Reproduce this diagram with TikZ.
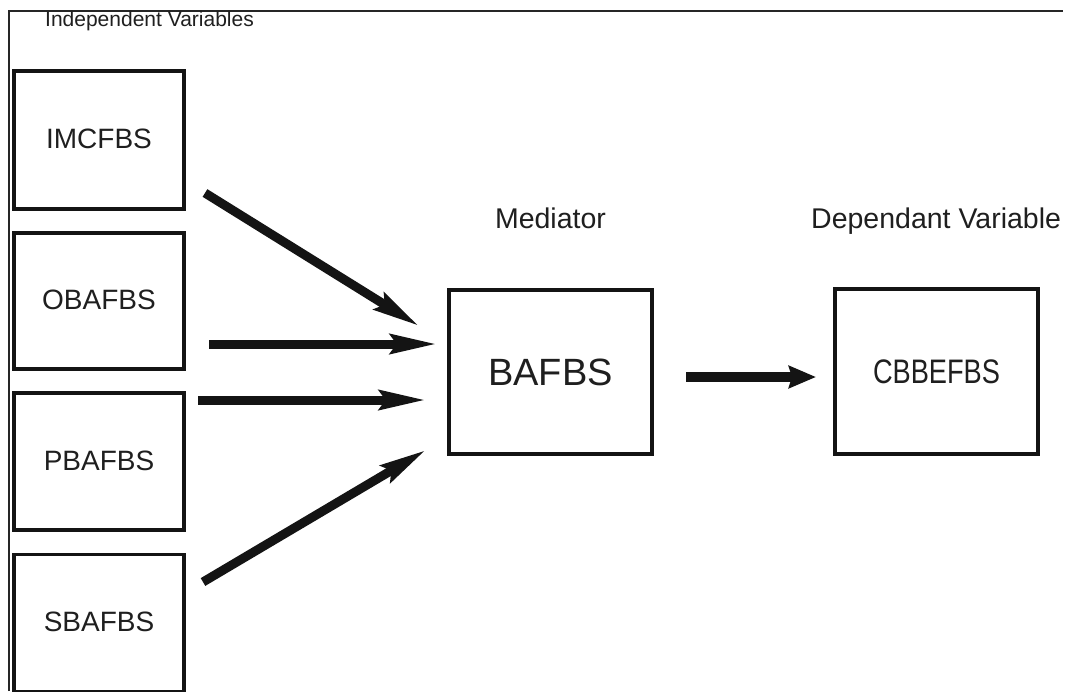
\documentclass[tikz,border=0pt]{standalone}
\usepackage{fontspec}
\setmainfont{Liberation Sans}
\usepackage{graphicx}
\usetikzlibrary{arrows.meta}
\begin{document}
\begin{tikzpicture}[x=1pt,y=-1pt,
  box/.style={draw=black!92, line width=3.8pt, inner sep=0pt, minimum width=170pt},
  lbl/.style={font=\fontsize{28}{30}\selectfont, text=black!88},
  head/.style={font=\fontsize{28.5}{30}\selectfont, text=black!88, inner sep=0pt},
  arr/.style={draw=black!92, line width=9pt, -{Stealth[length=46pt,width=19pt,inset=6pt]}},
  arrb/.style={draw=black!92, line width=10pt, -{Stealth[length=27pt,width=22pt,inset=3pt]}},
  frameline/.style={line width=1.4pt, draw=black!85}]
\useasboundingbox (0,0) rectangle (1068,691);
\fill[white] (0,0) rectangle (1068,691);
% frame lines
\coordinate (fl) at (9,691);
\coordinate (ftl) at (9,11);
\coordinate (ftr) at (1063,11);
\draw[frameline] (fl) -- (ftl) -- (ftr);
% headings
\node[head, font=\fontsize{21}{23}\selectfont, anchor=base west] (indep) at (45,26) {Independent Variables};
\node[head, anchor=base] (medt) at (550.5,228) {Mediator};
\node[head, anchor=base west] (dept) at (811,228) {Dependant Variable};
% left boxes
\node[box, minimum height=138pt, lbl] (imc) at (99,140) {\raisebox{2pt}{IMCFBS}};
\node[box, minimum height=136pt, lbl] (oba) at (99,301) {\raisebox{2pt}{OBAFBS}};
\node[box, minimum height=137pt, lbl] (pba) at (99,461.5) {\raisebox{2pt}{PBAFBS}};
\node[box, minimum height=137pt, lbl] (sba) at (99,623) {\raisebox{3pt}{SBAFBS}};
% mediator and dependent
\node[box, minimum width=203pt, minimum height=164pt, font=\fontsize{38}{40}\selectfont, text=black!88] (baf) at (550.5,372) {BAFBS};
\node[box, minimum width=203pt, minimum height=165pt, font=\fontsize{34}{36}\selectfont, text=black!88] (cbb) at (936.5,371.5) {\scalebox{0.8}[1]{CBBEFBS}};
% arrow endpoints
\coordinate (a1s) at (205,193);
\coordinate (a1e) at (419,326);
\coordinate (a2s) at (209,344);
\coordinate (a2e) at (437,344);
\coordinate (a3s) at (198,400);
\coordinate (a3e) at (426,400);
\coordinate (a4s) at (203,582);
\coordinate (a4e) at (426,450);
\coordinate (a5s) at (686,377);
\coordinate (a5e) at (816,377);
\draw[arr] (a1s) -- (a1e);
\draw[arr] (a2s) -- (a2e);
\draw[arr] (a3s) -- (a3e);
\draw[arr] (a4s) -- (a4e);
\draw[arrb] (a5s) -- (a5e);
\end{tikzpicture}
\end{document}
